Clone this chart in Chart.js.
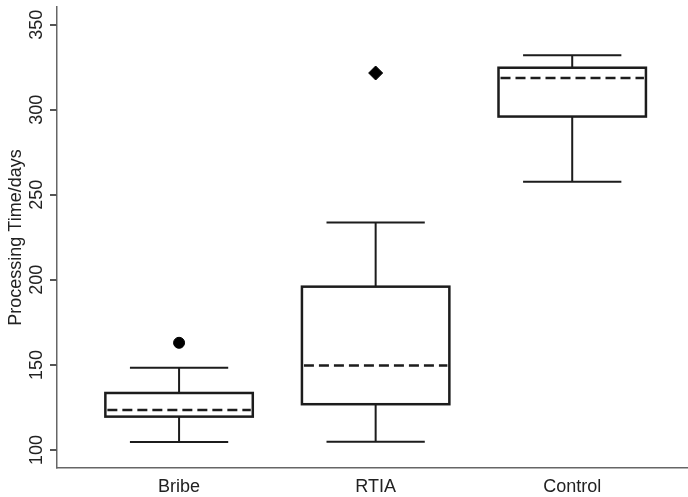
<!DOCTYPE html>
<html>
<head>
<meta charset="utf-8">
<script src="https://cdn.jsdelivr.net/npm/chart.js@4.4.1/dist/chart.umd.min.js"></script>
<style>
  html, body { margin: 0; padding: 0; background: #fff; }
  #wrap { width: 688px; height: 497px; }
</style>
</head>
<body>
<div id="wrap"><canvas id="boxChart"></canvas></div>
<script>
const categories = ["Bribe", "RTIA", "Control"];
const whiskerLow = [104.7, 104.9, 257.6];
const q1 = [119.6, 126.9, 296];
const median = [123.5, 149.6, 318.6];
const q3 = [133.5, 196, 324.7];
const whiskerHigh = [148.4, 233.7, 332];
const outlierGroup = [1, 2];
const outlierValue = [163, 321.6];
const outlierShape = ["circle", "rectRot"];
const yTicks = [100, 150, 200, 250, 300, 350];

const ink = "#1c1c1c";
const font = "'Liberation Sans', Arial, Helvetica, sans-serif";

// boxes, whiskers and medians drawn off the chart scales
const boxPlugin = {
  id: "boxes",
  beforeDatasetsDraw(chart) {
    const ctx = chart.ctx;
    const x = chart.scales.x;
    const y = chart.scales.y;
    ctx.save();
    ctx.strokeStyle = ink;
    for (let i = 0; i < categories.length; i++) {
      const c = i + 1;
      const bl = x.getPixelForValue(c - 0.375);
      const br = x.getPixelForValue(c + 0.375);
      const cl = x.getPixelForValue(c - 0.25);
      const cr = x.getPixelForValue(c + 0.25);
      const cx = x.getPixelForValue(c);

      ctx.setLineDash([]);
      ctx.lineWidth = 2;
      ctx.beginPath();
      // whiskers
      ctx.moveTo(cx, y.getPixelForValue(q3[i]));
      ctx.lineTo(cx, y.getPixelForValue(whiskerHigh[i]));
      ctx.moveTo(cl, y.getPixelForValue(whiskerHigh[i]));
      ctx.lineTo(cr, y.getPixelForValue(whiskerHigh[i]));
      ctx.moveTo(cx, y.getPixelForValue(q1[i]));
      ctx.lineTo(cx, y.getPixelForValue(whiskerLow[i]));
      ctx.moveTo(cl, y.getPixelForValue(whiskerLow[i]));
      ctx.lineTo(cr, y.getPixelForValue(whiskerLow[i]));
      ctx.stroke();

      ctx.lineWidth = 2.5;
      const top = y.getPixelForValue(q3[i]);
      const bot = y.getPixelForValue(q1[i]);
      ctx.strokeRect(bl, top, br - bl, bot - top);

      ctx.setLineDash([10, 5]);
      ctx.beginPath();
      ctx.moveTo(bl + 2, y.getPixelForValue(median[i]));
      ctx.lineTo(br - 2, y.getPixelForValue(median[i]));
      ctx.stroke();
    }
    ctx.restore();
  },
  afterDraw(chart) {
    // small outward tick marks on the y axis
    const ctx = chart.ctx;
    const y = chart.scales.y;
    ctx.save();
    ctx.strokeStyle = "#555";
    ctx.lineWidth = 1.5;
    ctx.beginPath();
    yTicks.forEach(v => {
      const py = Math.round(y.getPixelForValue(v)) + 0.25;
      ctx.moveTo(y.right - 7, py);
      ctx.lineTo(y.right, py);
    });
    ctx.stroke();
    ctx.restore();
  }
};

new Chart("boxChart", {
  type: "scatter",
  data: {
    datasets: [{
      data: outlierGroup.map((g, i) => ({ x: g, y: outlierValue[i] })),
      pointStyle: outlierShape,
      pointRadius: [5.5, 7],
      backgroundColor: "#000",
      borderColor: "#000",
      borderWidth: 1
    }]
  },
  options: {
    responsive: true,
    maintainAspectRatio: false,
    animation: false,
    layout: { autoPadding: false, padding: { top: 7, right: 0, left: 0, bottom: 0 } },
    plugins: {
      legend: { display: false },
      tooltip: { enabled: false }
    },
    scales: {
      x: {
        type: "linear",
        min: 0.379,
        max: 3.589,
        afterBuildTicks: s => { s.ticks = categories.map((c, i) => ({ value: i + 1 })); },
        afterFit: s => { s.height = 29; s.paddingLeft = 0; s.paddingRight = 0; },
        ticks: {
          callback: v => categories[v - 1] || "",
          color: "#222",
          font: { family: font, size: 18 },
          padding: 8,
          maxRotation: 0
        },
        grid: { display: false, drawTicks: false },
        border: { display: true, color: "#666", width: 1.5 }
      },
      y: {
        min: 89.4,
        max: 360.4,
        afterBuildTicks: s => { s.ticks = yTicks.map(v => ({ value: v })); },
        afterFit: s => { s.width = 57; s.paddingTop = 0; s.paddingBottom = 0; },
        ticks: {
          color: "#222",
          font: { family: font, size: 18 },
          minRotation: 90,
          maxRotation: 90,
          crossAlign: "center",
          padding: -2
        },
        grid: { drawOnChartArea: false, drawTicks: true, tickLength: 7, color: "#555", lineWidth: 1.5 },
        border: { display: true, color: "#666", width: 1.5 },
        title: {
          display: true,
          text: "Processing Time/days",
          color: "#222",
          font: { family: font, size: 18 },
          padding: { top: 5, bottom: 0 }
        }
      }
    }
  },
  plugins: [boxPlugin]
});
</script>
</body>
</html>
